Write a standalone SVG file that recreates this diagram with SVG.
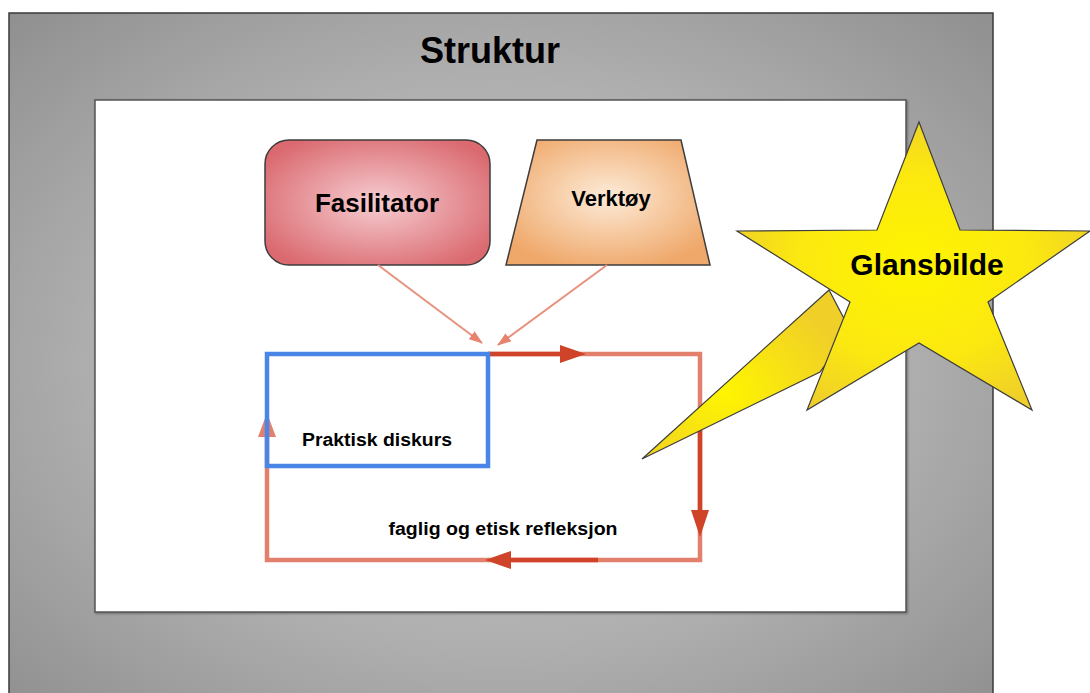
<svg xmlns="http://www.w3.org/2000/svg" width="1090" height="693" viewBox="0 0 1090 693">
  <defs>
    <radialGradient id="frameFill" cx="50%" cy="50%" r="72%">
      <stop offset="0" stop-color="#c4c4c4"/>
      <stop offset="0.55" stop-color="#b0b0b0"/>
      <stop offset="1" stop-color="#8e8e8e"/>
    </radialGradient>
    <radialGradient id="roseFill" cx="50%" cy="50%" r="60%">
      <stop offset="0" stop-color="#f6cdd1"/>
      <stop offset="1" stop-color="#da6a70"/>
    </radialGradient>
    <radialGradient id="peachFill" cx="50%" cy="45%" r="60%">
      <stop offset="0" stop-color="#fdebd8"/>
      <stop offset="1" stop-color="#efa86a"/>
    </radialGradient>
    <radialGradient id="starFill" cx="50%" cy="50%" r="55%">
      <stop offset="0" stop-color="#fff500"/>
      <stop offset="0.6" stop-color="#fbe810"/>
      <stop offset="1" stop-color="#efcf2a"/>
    </radialGradient>
    <radialGradient id="tailFill" cx="40%" cy="60%" r="60%">
      <stop offset="0" stop-color="#fff500"/>
      <stop offset="1" stop-color="#f0cf28"/>
    </radialGradient>
    <marker id="arrowSalmon" viewBox="0 0 14 10" refX="13" refY="5" markerWidth="14" markerHeight="10" orient="auto" markerUnits="userSpaceOnUse">
      <path d="M0,0 L14,5 L0,10 Z" fill="#e7836e"/>
    </marker>
    <filter id="softShadow" x="-5%" y="-5%" width="110%" height="110%">
      <feDropShadow dx="1" dy="1" stdDeviation="1" flood-color="#000" flood-opacity="0.35"/>
    </filter>
  </defs>
  <style>
    .label { font-family: "Liberation Sans", Arial, sans-serif; font-weight: bold; fill: #000; }
    .loop { fill: none; stroke-width: 4.5; stroke-linecap: butt; }
    .light { stroke: #e2806d; }
    .dark { stroke: #cf4328; }
    .feed { stroke: #e8917e; stroke-width: 2; fill: none; }
  </style>

  <rect width="1090" height="693" fill="#ffffff"/>

  <!-- outer structure frame -->
  <g id="struktur">
    <rect x="9" y="13" width="984" height="700" fill="url(#frameFill)" stroke="#3a3a3a" stroke-width="1.5"/>
    <text class="label" x="490" y="63" font-size="36" text-anchor="middle">Struktur</text>
  </g>

  <!-- inner white working area -->
  <g id="omraade">
    <rect x="95" y="100" width="811" height="512" fill="#ffffff" stroke="#555" stroke-width="1.5" filter="url(#softShadow)"/>
  </g>

  <g id="fasilitator">
    <rect x="265" y="140" width="225" height="125" rx="24" fill="url(#roseFill)" stroke="#3d3d3d" stroke-width="1.5"/>
    <text class="label" x="377" y="212" font-size="26" text-anchor="middle">Fasilitator</text>
  </g>

  <g id="verktoy">
    <polygon points="537,140 681,140 710,265 506,265" fill="url(#peachFill)" stroke="#3d3d3d" stroke-width="1.5"/>
    <text class="label" x="611" y="206" font-size="22" text-anchor="middle">Verktøy</text>
  </g>

  <!-- connectors -->
  <g id="connectors">
    <line class="feed" x1="378" y1="265" x2="482" y2="343" marker-end="url(#arrowSalmon)"/>
    <line class="feed" x1="607" y1="265" x2="498" y2="345" marker-end="url(#arrowSalmon)"/>

    <!-- reflection loop -->
    <polyline class="loop light" points="488,354 700,354 700,560 267,560 267,420"/>
    <line class="loop dark" x1="488" y1="354" x2="566" y2="354"/>
    <polygon points="560,345 586,354 560,363" fill="#cf4328"/>
    <line class="loop dark" x1="700" y1="430" x2="700" y2="515"/>
    <polygon points="691,510 700,537 709,510" fill="#cf4328"/>
    <line class="loop dark" x1="598" y1="560" x2="505" y2="560"/>
    <polygon points="511,551 485,560 511,569" fill="#cf4328"/>
    <polygon points="258,437 267,413 276,437" fill="#e2806d"/>
  </g>

  <g id="praktisk-diskurs">
    <rect x="267" y="354" width="221" height="112" fill="none" stroke="#4a86e8" stroke-width="4.5"/>
    <text class="label" x="377" y="446" font-size="18" text-anchor="middle" textLength="150" lengthAdjust="spacingAndGlyphs">Praktisk diskurs</text>
  </g>

  <g id="refleksjon">
    <text class="label" x="503" y="535" font-size="18" text-anchor="middle" textLength="229" lengthAdjust="spacingAndGlyphs">faglig og etisk refleksjon</text>
  </g>

  <g id="glansbilde">
    <polygon points="829,290 642,459 820,372 850,330" fill="url(#tailFill)" stroke="#3d3d3d" stroke-width="1.2" stroke-linejoin="miter"/>
    <polygon points="919,122 960,230 1090,231 988,302 1032,410 919,343 807,410 850,302 737,231 877,230" fill="url(#starFill)" stroke="#3d3d3d" stroke-width="1.2"/>
    <text class="label" x="927" y="275" font-size="30" text-anchor="middle">Glansbilde</text>
  </g>
</svg>
